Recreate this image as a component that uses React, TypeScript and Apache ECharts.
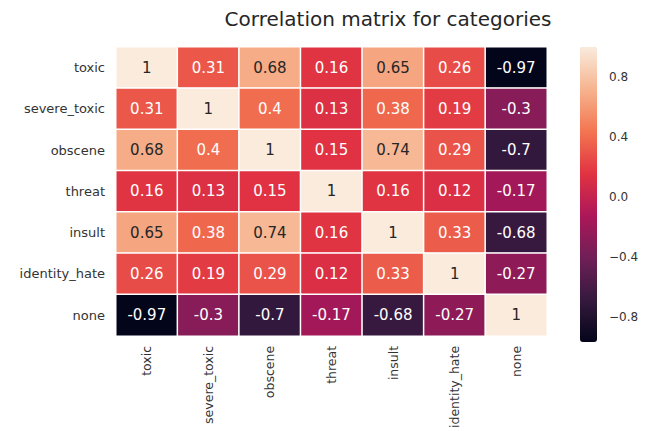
import React, { useEffect, useRef } from "react";
import * as echarts from "echarts";

// Category names shared by both axes of the correlation matrix
const categories = [
  "toxic",
  "severe_toxic",
  "obscene",
  "threat",
  "insult",
  "identity_hate",
  "none",
];

// Pairwise correlation values, one row per category (same order as above)
const rowToxic = [1, 0.31, 0.68, 0.16, 0.65, 0.26, -0.97];
const rowSevereToxic = [0.31, 1, 0.4, 0.13, 0.38, 0.19, -0.3];
const rowObscene = [0.68, 0.4, 1, 0.15, 0.74, 0.29, -0.7];
const rowThreat = [0.16, 0.13, 0.15, 1, 0.16, 0.12, -0.17];
const rowInsult = [0.65, 0.38, 0.74, 0.16, 1, 0.33, -0.68];
const rowIdentityHate = [0.26, 0.19, 0.29, 0.12, 0.33, 1, -0.27];
const rowNone = [-0.97, -0.3, -0.7, -0.17, -0.68, -0.27, 1];

const matrix = [
  rowToxic,
  rowSevereToxic,
  rowObscene,
  rowThreat,
  rowInsult,
  rowIdentityHate,
  rowNone,
];

// Colour scale range and colour bar tick labels
const scaleMin = -0.97;
const scaleMax = 1;
const colorbarTicks = [-0.8, -0.4, 0, 0.4, 0.8];

// "rocket" palette stops, evenly spaced from low to high
const rocket = [
  "#03051a",
  "#35193e",
  "#701f57",
  "#ad1759",
  "#e13342",
  "#f37651",
  "#f6b48f",
  "#faebdd",
];

const FONT = "DejaVu Sans";

export default function App() {
  const ref = useRef<HTMLDivElement>(null);

  useEffect(() => {
    if (!ref.current) return;
    const chart = echarts.init(ref.current, null, { renderer: "svg" });

    const data: any[] = [];
    matrix.forEach((row, r) => {
      row.forEach((v, c) => {
        data.push({
          value: [c, r, v],
          label: { color: v >= 0.6 ? "#262626" : "#ffffff" },
        });
      });
    });

    const fmtTick = (v: number) => {
      const s = Math.abs(v).toFixed(1);
      return v < 0 ? "\u2212" + s : s;
    };

    chart.setOption({
      animation: false,
      backgroundColor: "#ffffff",
      title: {
        text: "Correlation matrix for categories",
        left: 383,
        top: 4,
        textAlign: "center",
        textStyle: {
          fontFamily: FONT,
          fontSize: 20,
          fontWeight: "normal",
          color: "#262626",
        },
      },
      grid: [
        { left: 116, top: 47, width: 431, height: 295 },
        { left: 580, top: 47, width: 17, height: 295 },
      ],
      xAxis: [
        {
          type: "category",
          data: categories,
          gridIndex: 0,
          axisLine: { show: false },
          axisTick: { show: false },
          splitLine: { show: false },
          axisLabel: {
            rotate: 90,
            margin: 10,
            fontFamily: FONT,
            fontSize: 12.5,
            color: "#333333",
            interval: 0,
          },
        },
        { type: "value", gridIndex: 1, show: false },
      ],
      yAxis: [
        {
          type: "category",
          data: categories,
          inverse: true,
          gridIndex: 0,
          axisLine: { show: false },
          axisTick: { show: false },
          splitLine: { show: false },
          axisLabel: {
            margin: 11,
            fontFamily: FONT,
            fontSize: 13,
            color: "#333333",
            interval: 0,
          },
        },
        {
          type: "value",
          gridIndex: 1,
          position: "right",
          min: scaleMin,
          max: scaleMax,
          axisLine: { show: false },
          axisTick: { show: false },
          splitLine: { show: false },
          axisLabel: {
            customValues: colorbarTicks,
            margin: 12,
            fontFamily: FONT,
            fontSize: 12,
            color: "#333333",
            formatter: (v: number) => fmtTick(v),
          },
        },
      ],
      visualMap: {
        type: "continuous",
        min: scaleMin,
        max: scaleMax,
        seriesIndex: 0,
        calculable: false,
        left: 580,
        top: 47,
        padding: 0,
        itemWidth: 17,
        itemHeight: 295,
        text: ["", ""],
        showLabel: false,
        inRange: { color: rocket },
      },
      series: [
        {
          type: "heatmap",
          xAxisIndex: 0,
          yAxisIndex: 0,
          data,
          itemStyle: { borderColor: "#ffffff", borderWidth: 1.5 },
          label: {
            show: true,
            fontFamily: FONT,
            fontSize: 15,
            formatter: (p: any) => String(p.value[2]),
          },
          emphasis: { disabled: true },
        },
      ],
    });

    return () => chart.dispose();
  }, []);

  return (
    <div
      ref={ref}
      style={{ position: "fixed", left: 0, top: 0, width: 645, height: 431 }}
    />
  );
}
